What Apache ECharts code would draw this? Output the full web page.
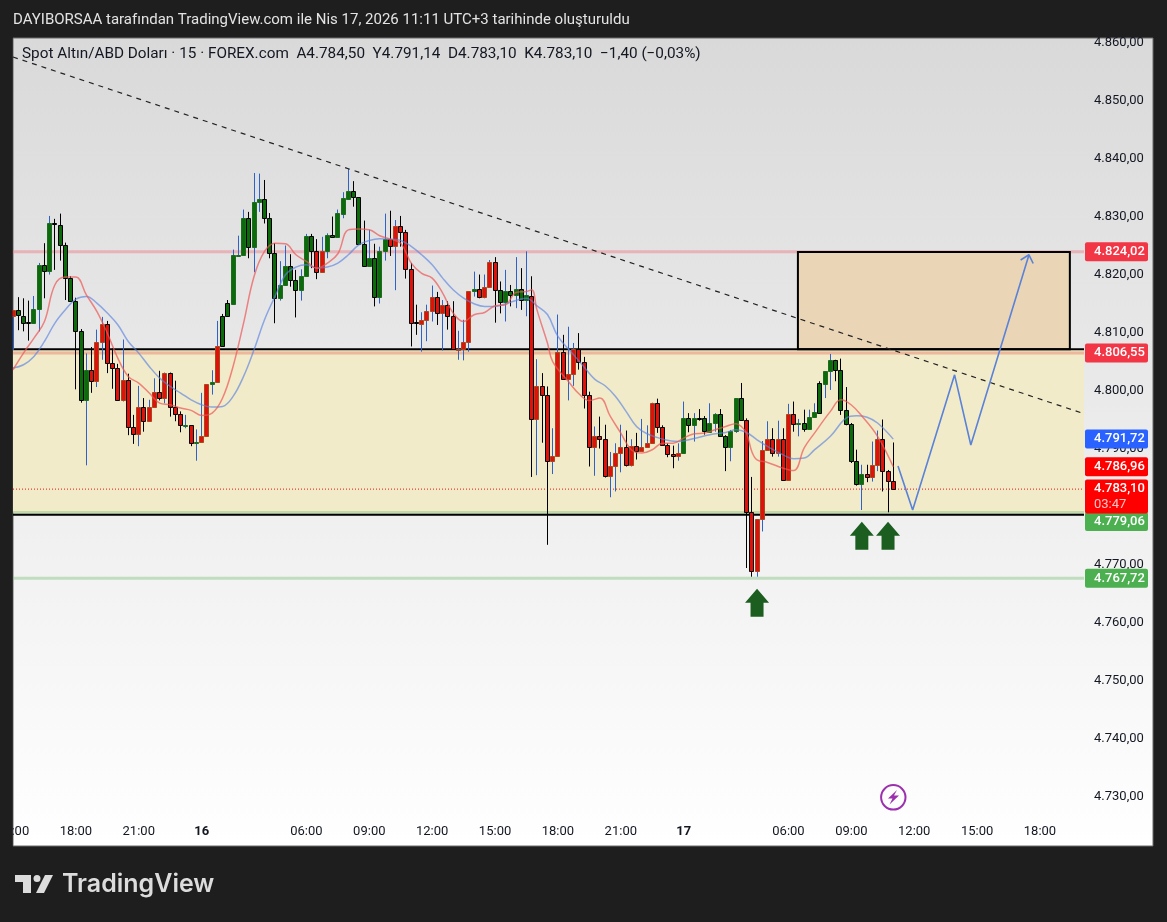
<!DOCTYPE html>
<html><head><meta charset="utf-8">
<style>html,body{margin:0;padding:0;background:#1e1e1e}#c{width:1167px;height:922px}</style>
<script src="https://cdn.jsdelivr.net/npm/echarts@6/dist/echarts.min.js"></script>
</head><body><div id="c"></div>
<script>
const headerText = "DAYIBORSAA tarafından TradingView.com ile Nis 17, 2026 11:11 UTC+3 tarihinde oluşturuldu";
const legendText = "Spot Altın/ABD Doları · 15 · FOREX.com  A4.784,50  Y4.791,14  D4.783,10  K4.783,10  −1,40 (−0,03%)";
const tickIndex = [0,12,24,36,56,68,80,92,104,116,128,148,160,172,184,196];
const tickLabels = ["15:00","18:00","21:00","16","06:00","09:00","12:00","15:00","18:00","21:00","17","06:00","09:00","12:00","15:00","18:00"];

const bodyTops = [
4813.9,4813.9,4812.9,4811.8,4814.1,4821.7,4821.7,4828.9,4828.9,4828.6,
4825.1,4819.5,4815.5,4810.3,4803.6,4803.6,4808.4,4811.4,4811.4,4804.7,
4803.9,4801.9,4801.9,4793.8,4797.2,4797.2,4797.1,4799.8,4799.8,4803.1,
4803.1,4797.1,4796.0,4794.0,4794.0,4791.2,4792.1,4801.2,4801.4,4807.7,
4812.8,4815.1,4823.3,4823.4,4829.8,4829.8,4832.6,4833.1,4833.1,4829.8,
4823.8,4818.2,4821.4,4821.4,4819.1,4819.8,4826.6,4826.6,4824.0,4824.1,
4826.9,4826.9,4830.6,4833.2,4834.5,4834.5,4833.3,4825.3,4822.8,4822.8,
4824.1,4826.1,4826.1,4828.3,4828.3,4827.4,4821.0,4811.8,4812.2,4813.8,
4816.2,4816.2,4814.8,4814.8,4812.9,4807.2,4808.4,4817.2,4817.6,4817.6,
4817.8,4822.2,4822.2,4817.4,4817.2,4817.2,4817.5,4817.5,4816.4,4816.3,
4800.8,4800.8,4799.3,4788.7,4806.7,4806.7,4802.9,4807.1,4807.1,4805.0,
4799.3,4792.1,4792.1,4791.6,4787.0,4789.3,4790.2,4790.2,4790.5,4790.5,
4790.2,4791.0,4797.8,4797.8,4793.8,4790.6,4789.1,4789.2,4795.3,4795.3,
4795.3,4795.3,4795.3,4794.5,4795.9,4795.9,4792.2,4793.0,4798.8,4798.8,
4795.0,4779.1,4777.9,4789.7,4791.6,4791.6,4791.7,4791.7,4796.0,4796.0,
4794.5,4794.5,4795.5,4796.3,4801.3,4803.3,4805.2,4805.2,4803.6,4796.6,
4794.3,4787.8,4785.7,4785.7,4787.2,4791.7,4791.7,4786.2,4784.5];
const bodyBottoms = [
4812.8,4813.0,4811.7,4811.7,4811.7,4814.1,4820.6,4820.6,4828.7,4825.1,
4819.5,4815.5,4810.3,4798.4,4798.4,4801.7,4801.7,4808.4,4804.7,4803.9,
4798.3,4798.3,4793.8,4792.5,4792.5,4794.8,4794.8,4797.1,4798.7,4798.7,
4797.1,4796.0,4794.0,4793.9,4791.0,4791.0,4791.1,4792.1,4801.1,4801.4,
4807.7,4812.8,4814.9,4823.2,4823.3,4824.8,4824.8,4832.6,4829.8,4823.8,
4816.0,4816.0,4818.2,4819.1,4817.4,4817.4,4819.8,4824.0,4820.5,4820.5,
4824.1,4826.4,4826.4,4830.5,4833.0,4833.3,4825.3,4821.4,4821.4,4816.1,
4816.1,4824.1,4824.9,4824.9,4827.4,4821.0,4811.7,4811.7,4811.5,4812.2,
4813.8,4813.3,4813.3,4812.9,4807.1,4807.1,4807.2,4808.4,4817.2,4816.1,
4816.1,4817.8,4817.4,4815.2,4815.2,4816.4,4816.4,4815.7,4815.7,4795.1,
4795.1,4799.3,4787.8,4787.8,4788.7,4802.0,4802.0,4802.9,4805.0,4799.3,
4790.3,4790.3,4791.6,4785.3,4785.3,4787.0,4789.3,4787.2,4787.2,4789.6,
4789.6,4790.2,4791.0,4793.8,4790.6,4789.1,4788.8,4788.8,4789.2,4794.1,
4794.1,4795.2,4793.0,4792.9,4794.5,4792.2,4790.3,4790.3,4793.0,4795.0,
4779.1,4768.9,4768.9,4777.9,4789.7,4789.2,4789.2,4784.6,4784.6,4794.3,
4794.4,4793.3,4793.3,4795.4,4796.2,4801.1,4803.3,4803.6,4796.6,4794.3,
4787.8,4783.9,4783.9,4785.1,4785.1,4787.2,4786.2,4784.4,4783.1];
const highs = [
4813.9,4816.2,4816.0,4815.6,4816.4,4822.1,4825.5,4830.2,4829.7,4830.6,
4825.6,4819.8,4816.1,4810.7,4806.5,4807.6,4810.6,4812.8,4812.1,4807.4,
4804.7,4808.9,4803.0,4795.9,4800.9,4798.8,4798.5,4802.2,4803.5,4803.2,
4803.2,4801.8,4796.5,4795.9,4794.0,4793.4,4799.7,4801.2,4803.6,4812.1,
4813.3,4815.7,4824.4,4826.8,4831.3,4830.9,4837.6,4837.5,4836.4,4830.7,
4825.5,4822.4,4825.1,4823.6,4820.9,4821.0,4827.1,4827.1,4826.2,4826.6,
4827.2,4830.1,4831.3,4834.3,4838.3,4836.2,4833.3,4829.4,4827.8,4825.4,
4824.9,4830.6,4831.1,4829.5,4830.2,4827.8,4822.1,4814.9,4813.6,4814.9,
4818.2,4817.1,4815.7,4815.5,4815.5,4810.4,4812.3,4817.2,4820.6,4820.1,
4820.1,4822.6,4823.1,4818.9,4820.9,4818.3,4823.1,4821.2,4824.1,4819.8,
4805.5,4803.1,4800.8,4793.6,4813.2,4809.7,4811.1,4808.3,4810.0,4805.9,
4799.9,4793.9,4795.6,4794.2,4789.5,4791.0,4794.2,4793.2,4791.7,4792.8,
4795.2,4794.1,4798.0,4798.7,4794.1,4791.0,4790.6,4791.0,4798.2,4796.2,
4796.2,4796.9,4795.7,4797.9,4796.2,4796.9,4792.4,4793.3,4798.8,4801.4,
4795.3,4785.2,4777.9,4791.4,4794.8,4793.6,4794.9,4793.6,4797.8,4798.2,
4795.2,4796.8,4796.8,4797.9,4801.7,4803.3,4806.4,4805.4,4805.6,4800.7,
4794.5,4789.9,4787.3,4787.3,4791.3,4793.2,4795.1,4786.4,4791.14];
const lows = [
4807.1,4810.5,4810.3,4808.7,4811.7,4810.3,4816.0,4820.1,4820.9,4822.5,
4815.7,4815.5,4800.3,4798.0,4787.2,4799.7,4800.7,4805.4,4803.1,4800.4,
4798.3,4798.2,4792.4,4790.9,4790.5,4793.0,4794.8,4797.1,4798.4,4797.9,
4795.6,4794.8,4792.9,4793.6,4790.5,4788.0,4791.1,4792.1,4799.4,4801.4,
4807.7,4812.8,4814.9,4823.2,4823.3,4822.9,4820.5,4830.9,4828.9,4822.9,
4811.7,4815.6,4818.2,4818.0,4812.7,4815.6,4819.8,4821.2,4819.3,4820.5,
4822.9,4826.4,4826.4,4829.8,4833.0,4831.8,4825.2,4821.4,4821.4,4814.6,
4815.1,4822.5,4823.3,4817.4,4824.9,4819.4,4807.7,4809.7,4806.8,4808.6,
4812.0,4811.4,4807.0,4810.6,4807.1,4805.4,4805.3,4806.8,4816.3,4816.0,
4816.0,4817.8,4811.8,4813.4,4812.0,4814.6,4814.3,4814.0,4812.9,4785.2,
4785.5,4791.1,4773.5,4785.7,4788.7,4802.0,4798.4,4800.9,4803.7,4797.0,
4787.0,4785.4,4790.1,4785.1,4781.7,4782.7,4786.0,4787.0,4787.0,4788.2,
4789.6,4790.2,4791.0,4792.8,4790.6,4788.6,4786.7,4788.0,4789.2,4792.9,
4791.3,4794.9,4792.5,4792.8,4793.0,4792.1,4786.2,4787.9,4792.8,4795.0,
4769.5,4768.0,4768.0,4775.8,4789.7,4788.7,4788.7,4784.6,4784.6,4793.0,
4792.2,4793.0,4793.3,4795.4,4796.2,4798.8,4800.2,4801.7,4795.9,4794.1,
4787.6,4783.7,4779.5,4784.3,4784.4,4786.2,4782.7,4779.1,4783.1];
const bodyColors =
"RGGGGGGGGG"+"GGGGGRRRRR"+"RRRRRRRRRR"+"RRRGRGRRGR"+"GGGGGGGGGG"+
"GGGGGGGGRR"+"GGGGGGGGGG"+"GGRRRRRGRR"+"RRRRRRRRGR"+"RRRGGGGGGR"+
"RRRRRRRRRR"+"RRRRRRRRRR"+"RRRRRRRRGG"+"GGGGGGGGGG"+"RRRRRRRRRR"+
"GGGGGGGGGG"+"GGGRRRRRR";
const wickKinds =
"bkkkbbkbkk"+"kkkkbkbbkk"+"kbkkbkbbkb"+"kkkbkbbbbb"+"kkbbbkbbkk"+
"kbbkkbbkkb"+"bkbbbkkkbk"+"bbkbkkkkbb"+"bkbkkbbbbk"+"bbkkbkbkbk"+
"bkkbbkbbkk"+"kbkkbbbkbk"+"bbbkkkkbbk"+"bkkbbkkbbk"+"kkbbbkbkbk"+
"bkbbkbbkkk"+"kkbkbbkkk";

const fastIndex = [0,2,4,6,8,10,12,14,16,18,20,22,24,26,28,30,32,34,36,38,40,42,44,46,48,50,52,54,56,58,60,62,64,66,68,70,72,74,76,78,80,82,84,86,88,90,92,94,96,98,99,100,102,103,106,108,110,112,114,116,118,120,122,124,126,128,130,132,134,136,138,139,140,141,142,144,147,149,151,153,156,158,160,162,165,168];
const fastValues = [4803.68,4806.55,4809.14,4812.0,4818.33,4819.66,4819.66,4816.6,4813.74,4810.0,4805.69,4802.53,4801.38,4799.66,4797.93,4797.64,4797.07,4796.67,4795.8,4796.2,4798.8,4804.25,4811.72,4819.77,4824.08,4825.5,4825.4,4823.5,4822.36,4821.2,4822.07,4823.68,4827.8,4827.93,4827.8,4826.78,4826.2,4825.5,4822.07,4820.3,4819.48,4816.9,4813.45,4812.0,4813.16,4813.56,4814.7,4814.9,4817.0,4817.18,4817.47,4814.0,4808.28,4805.1,4801.67,4799.54,4798.39,4798.79,4795.63,4792.76,4789.89,4789.31,4789.89,4791.03,4791.03,4791.9,4792.64,4792.76,4793.33,4793.9,4794.37,4793.9,4792.76,4789.6,4788.15,4787.7,4786.7,4786.3,4790.2,4792.8,4796.5,4798.5,4797.6,4795.7,4792.2,4786.96];
const slowIndex = [0,2,4,6,8,10,12,14,16,18,20,22,24,26,28,30,32,34,36,38,40,42,44,46,48,50,52,54,56,58,60,62,64,66,68,70,72,74,76,78,80,82,84,86,88,90,92,94,96,98,100,102,104,107,109,111,113,115,117,119,121,124,127,130,133,136,138,140,142,144,147,149,151,153,156,159,161,163,165,168];
const slowValues = [4803.97,4804.54,4805.98,4808.56,4811.72,4814.02,4815.86,4816.32,4815.17,4813.45,4811.44,4808.56,4806.55,4804.25,4802.24,4800.8,4799.66,4798.5,4797.64,4797.24,4797.36,4799.08,4802.53,4807.13,4812.3,4816.32,4820.06,4821.38,4821.78,4821.2,4821.38,4822.07,4823.5,4825.23,4825.98,4826.26,4826.2,4825.98,4824.94,4823.5,4821.78,4819.48,4817.47,4816.03,4815.06,4814.6,4814.6,4815.06,4815.63,4816.03,4814.7,4813.2,4809.43,4806.26,4804.14,4802.07,4800.92,4799.08,4796.5,4793.9,4792.64,4791.72,4791.32,4791.84,4792.47,4792.87,4793.33,4792.87,4791.6,4790.46,4789.0,4788.33,4788.45,4789.9,4792.2,4795.35,4795.75,4795.5,4794.5,4791.72];

const axisEnd = 204.4;
const resistance = 4824.02, zoneTop = 4806.55, zoneBottom = 4779.06, support = 4767.72, lastPrice = 4783.10;
const blackTop = 4807.2, blackBottom = 4778.7;
const trendIndex = [0, axisEnd], trendValues = [4857.6, 4796.1];
const pathIndex = [168.9,171.7,179.7,182.8,193.9], pathValues = [4787.1,4779.5,4802.8,4790.7,4823.5];
const headIndex = [192.3,193.9,194.7], headValues = [4822.6,4823.5,4822.0];
const boxRange = [149.8, 4824.0, 201.7, 4807.2];
const arrowIndex = [142,162,167], arrowValues = [4763.5,4775.05,4775.05];
const tagPrices = [4824.02,4806.55,4791.72,4786.96,4767.72,4779.06,4783.10];
const tagNudge  = [0,0,0,0,0,9,0];
const tagColors = ["#f23645","#f23645","#2962ff","#ff0000","#4caf50","#4caf50","#ff0000"];
const countdown = "03:47";

const fmt = v => { const s = v.toFixed(2).replace('.', ','); return s.slice(0,1)+'.'+s.slice(1); };
const FONT = 'Roboto, "Liberation Sans", sans-serif';
const GREEN='#0b6b0b', RED='#e0100a', BLUE='#2f62c8';
const crisp = v => Math.floor(v)+0.5;

const candleData = bodyTops.map((t,i)=>[i,t,bodyBottoms[i],highs[i],lows[i],bodyColors[i]==='G'?1:0,wickKinds[i]==='b'?1:0]);

function renderCandle(p, api){
  const i=api.value(0), up=api.value(5), b=api.value(6);
  const x=crisp(api.coord([i,4800])[0]);
  const t=crisp(api.coord([i,api.value(1)])[1]), bt=crisp(api.coord([i,api.value(2)])[1]);
  const h=api.coord([i,api.value(3)])[1], l=api.coord([i,api.value(4)])[1];
  const fill=up?GREEN:RED;
  const edge=b?(up?'#1f6b1f':'#a8481c'):'#000';
  return {type:'group',children:[
    {type:'line',shape:{x1:x,y1:h,x2:x,y2:l},style:{stroke:b?BLUE:'#000',lineWidth:1}},
    {type:'rect',shape:{x:x-2,y:t,width:4,height:Math.max(bt-t,1)},style:{fill:fill,stroke:edge,lineWidth:1}}
  ]};
}
function renderZone(p, api){
  const a=api.coord([api.value(0),api.value(1)]), b=api.coord([api.value(2),api.value(3)]);
  return {type:'rect',shape:{x:a[0],y:a[1],width:b[0]-a[0],height:b[1]-a[1]},style:{fill:'#f1ebc9'}};
}
function renderBox(p, api){
  const a=api.coord([api.value(0),api.value(1)]), b=api.coord([api.value(2),api.value(3)]);
  return {type:'rect',shape:{x:a[0],y:a[1],width:b[0]-a[0],height:b[1]-a[1]},style:{fill:'#ead5b6',stroke:'#000',lineWidth:2}};
}
function renderTag(p, api){
  const i=p.dataIndex, y=api.coord([100,tagPrices[i]])[1]+tagNudge[i];
  const x=p.coordSys.x+p.coordSys.width+1, two=tagPrices[i]===lastPrice;
  const kids=[{type:'rect',shape:{x:x,y:y-9.5,width:63,height:two?34:19,r:2},style:{fill:tagColors[i]}},
    {type:'text',x:x+9,y:y,style:{text:fmt(tagPrices[i]),fill:'#fff',font:'500 13px '+FONT,textVerticalAlign:'middle'}}];
  if(two) kids.push({type:'text',x:x+9,y:y+16,style:{text:countdown,fill:'#ffc4c4',font:'13px '+FONT,textVerticalAlign:'middle'}});
  return {type:'group',children:kids};
}
const hline=(v,color,w,z)=>({type:'line',z:z||1.5,silent:true,symbol:'none',data:[[0,v],[axisEnd,v]],lineStyle:{color:color,width:w}});
const zip=(a,b)=>a.map((x,i)=>[x,b[i]]);

const chart=echarts.init(document.getElementById('c'),null,{renderer:'canvas'});
chart.setOption({
  animation:false,
  backgroundColor:'#1e1e1e',
  textStyle:{fontFamily:FONT},
  grid:{left:13,right:83,top:43.1,bottom:124.9,outerBoundsMode:'none',containLabel:false},
  xAxis:{type:'value',min:0,max:axisEnd,splitLine:{show:false},axisLine:{show:false},axisTick:{show:false},
    axisLabel:{customValues:tickIndex,margin:28,color:'#131722',fontSize:13,fontFamily:FONT,hideOverlap:false,showMinLabel:true,showMaxLabel:true,
      formatter:v=>{const s=tickLabels[tickIndex.indexOf(v)]||'';return s.length<=2?'{b|'+s+'}':s;},
      rich:{b:{fontWeight:'bold',fontSize:13,color:'#131722',fontFamily:FONT}}}},
  yAxis:{type:'value',position:'right',min:4730,max:4860,interval:10,splitLine:{show:false},axisLine:{show:false},axisTick:{show:false},
    axisLabel:{margin:10,color:'#131722',fontSize:13,fontFamily:FONT,formatter:v=>fmt(v)}},
  graphic:[
    {type:'rect',z:-5,silent:true,shape:{x:13,y:38,width:1140,height:808},
      style:{stroke:'#6b6b6b',lineWidth:1,fill:{type:'linear',x:0,y:0,x2:0,y2:1,colorStops:[{offset:0,color:'#d9d9d9'},{offset:1,color:'#ffffff'}]}}},
    {type:'rect',z:40,silent:true,shape:{x:0,y:38,width:12.5,height:808},style:{fill:'#1e1e1e'}},
    {type:'text',z:50,x:13,y:20,style:{text:headerText,fill:'#e3e3e3',font:'15px '+FONT,textVerticalAlign:'middle'}},
    {type:'text',z:50,x:22,y:54,style:{text:legendText,fill:'#131722',font:'15.3px '+FONT,textVerticalAlign:'middle'}},
    {type:'polygon',z:50,silent:true,shape:{points:[[15,875],[31,875],[31,893],[23,893],[23,882],[15,882]]},style:{fill:'#dcdcdc'}},
    {type:'polygon',z:50,silent:true,shape:{points:[[36,893],[45,875],[53,875],[44,893]]},style:{fill:'#dcdcdc'}},
    {type:'circle',z:50,silent:true,shape:{cx:37,cy:878.5,r:3.5},style:{fill:'#dcdcdc'}},
    {type:'text',z:50,x:62,y:884.5,style:{text:'TradingView',fill:'#dcdcdc',font:'600 25px Inter, '+FONT,textVerticalAlign:'middle'}},
    {type:'circle',z:50,silent:true,shape:{cx:893.3,cy:797.3,r:12.2},style:{fill:'rgba(255,255,255,0)',stroke:'#9c2fae',lineWidth:2}},
    {type:'polygon',z:50,silent:true,shape:{points:[[897,790],[888,798.5],[892.5,798.5],[889.5,804.5],[899,795.5],[894,795.5]]},style:{fill:'#9c2fae'}}
  ],
  series:[
    {type:'custom',z:1,silent:true,renderItem:renderZone,data:[[0,blackTop,axisEnd,zoneBottom]],encode:{x:[0,2],y:[1,3]}},
    hline(resistance,'rgba(235,140,150,.55)',3),
    hline(zoneTop,'rgba(235,165,140,.75)',3),
    hline(zoneBottom,'rgba(150,200,130,.5)',3),
    hline(support,'rgba(130,195,130,.45)',3),
    {type:'custom',z:1.7,silent:true,renderItem:renderBox,data:[boxRange],encode:{x:[0,2],y:[1,3]}},
    hline(blackTop,'#000',2,1.8),
    hline(blackBottom,'#000',2,1.8),
    {type:'line',z:2,silent:true,symbol:'none',data:[[0,lastPrice],[axisEnd,lastPrice]],lineStyle:{color:'#ee1010',width:1,type:[1,2]}},
    {type:'custom',z:3,silent:true,renderItem:renderCandle,data:candleData,encode:{x:0,y:[1,2,3,4]}},
    {type:'line',z:4,silent:true,symbol:'none',smooth:0.4,data:zip(slowIndex,slowValues),lineStyle:{color:'rgba(90,130,225,.65)',width:1.5}},
    {type:'line',z:4,silent:true,symbol:'none',smooth:0.4,data:zip(fastIndex,fastValues),lineStyle:{color:'rgba(238,85,85,.7)',width:1.5}},
    {type:'line',z:4,silent:true,symbol:'none',data:zip(trendIndex,trendValues),lineStyle:{color:'#222',width:1.2,type:[5,5]}},
    {type:'line',z:4,silent:true,symbol:'none',data:zip(pathIndex,pathValues),lineStyle:{color:'#5a82d8',width:1.6}},
    {type:'line',z:4,silent:true,symbol:'none',data:zip(headIndex,headValues),lineStyle:{color:'#5a82d8',width:1.6}},
    {type:'scatter',z:5,silent:true,symbol:'path://M12 0L24 14H18.5V28H5.5V14H0Z',symbolSize:[24,28],itemStyle:{color:'#1b5e20',opacity:1},data:zip(arrowIndex,arrowValues)},
    {type:'custom',z:6,silent:true,renderItem:renderTag,data:tagPrices.map(v=>[100,v]),encode:{x:0,y:1}}
  ]
});
</script></body></html>
